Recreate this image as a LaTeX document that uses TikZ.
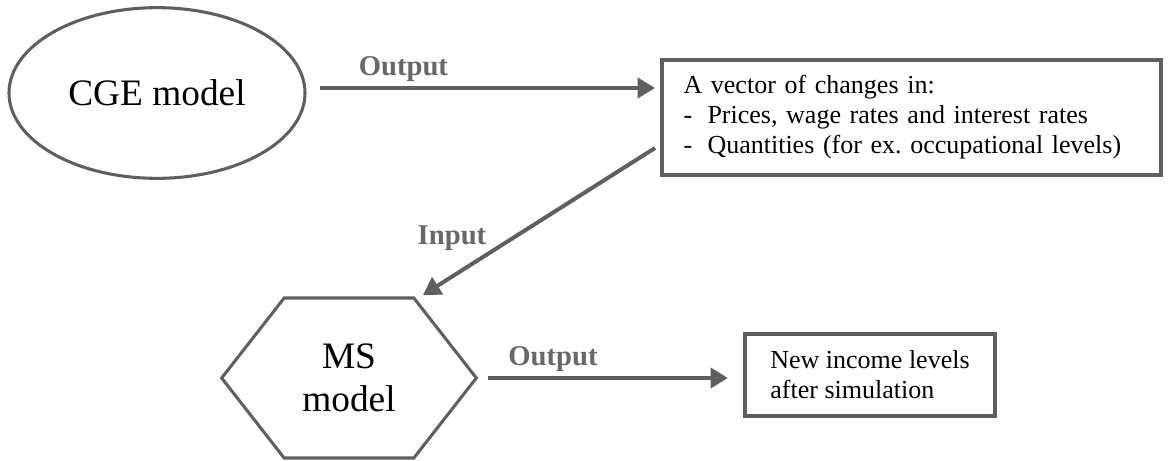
\documentclass[tikz,border=0pt]{standalone}
\usepackage{fontspec}
\setmainfont{Liberation Serif}
\usetikzlibrary{shapes.geometric,shapes.symbols,arrows.meta,positioning}
\definecolor{linegray}{HTML}{5F5F5F}
\definecolor{labelgray}{HTML}{686868}
\frenchspacing

\begin{document}
\begin{tikzpicture}[x=0.75pt,y=-0.75pt]
\tikzset{
  model/.style={draw=linegray,line width=2.3pt,inner sep=0pt,align=center,
    font=\fontsize{28}{32}\selectfont},
  result/.style={draw=linegray,line width=3.2pt,inner ysep=0pt,
    font=\fontsize{19.5}{22.5}\selectfont},
  flow/.style={draw=linegray,line width=3pt,-{Triangle[length=13pt,width=15pt]}},
  lbl/.style={text=labelgray,font=\fontsize{21.5}{24}\bfseries\selectfont}
}
\useasboundingbox (0,0) rectangle (1173,460);

% the two models
\node[model,ellipse,minimum width=222pt,minimum height=128pt] at (157,93) (cge) {CGE model};
\node[model,signal,signal to=west and east,signal pointer angle=104,
  minimum width=191pt,minimum height=120pt] at (349,378) (ms) {MS\\model};

% what comes out of them
\node[result,text width=342pt,inner xsep=16pt,minimum height=86pt,align=left] at (911.5,117.5) (vec)
  {A vector of changes in:\\
   \makebox[18pt][l]{-}Prices, wage rates and interest rates\\
   \makebox[18pt][l]{-}Quantities (for ex. occupational levels)};
\node[result,minimum width=187.5pt,minimum height=61.5pt,inner xsep=0pt,align=left] at (870,375) (inc)
  {New income levels\\after simulation};

% links
\draw[flow] ([shift={(13,-5)}]cge.east) -- node[lbl,pos=0.25,above] (out1) {Output} ([shift={(-5,-29.5)}]vec.west);
\draw[flow] ([shift={(-5,30.5)}]vec.west) -- ([shift={(74,-83)}]ms.center);
\node[lbl] at (452,238) (in1) {Input};
\draw[flow] ([shift={(10,0)}]ms.east) -- node[lbl,pos=0.27,above] (out2) {Output} ([shift={(-15,3)}]inc.west);

\end{tikzpicture}
\end{document}
